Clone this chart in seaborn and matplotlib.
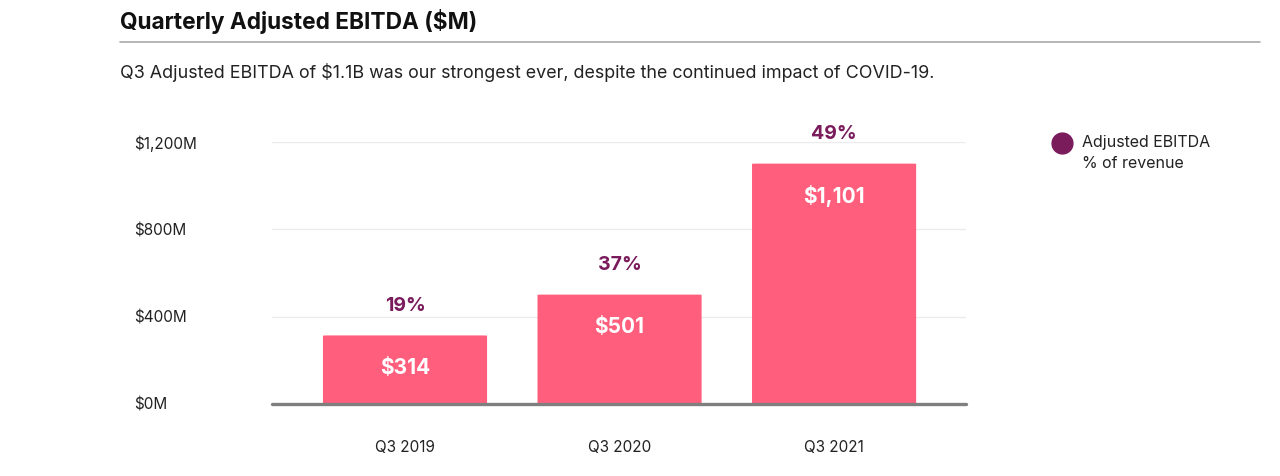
#!/usr/bin/env python3

import pandas as pd
import matplotlib.pyplot as plt
import seaborn as sns
from matplotlib.patches import FancyBboxPatch

# Chart data
quarters = ['Q3 2019', 'Q3 2020', 'Q3 2021']
ebitda = [314, 501, 1101]
margin_pct = [19, 37, 49]
y_ticks = [0, 400, 800, 1200]

BAR_COLOR = '#FF5F7D'
PURPLE = '#7A1B5C'
TEXT = '#222222'

sns.set_theme(style='white')
plt.rcParams['font.family'] = ['Inter', 'DejaVu Sans']

df = pd.DataFrame({'quarter': quarters, 'ebitda': ebitda})

fig = plt.figure(figsize=(12.8, 4.76), dpi=100)
ax = fig.add_axes([0.2125, 0.1513, 0.5422, 0.5504])

sns.barplot(data=df, x='quarter', y='ebitda', color=BAR_COLOR, width=0.765,
            saturation=1, ax=ax, zorder=3)

# round bar corners slightly
for p in list(ax.patches):
    x, y, w, h = p.get_x(), p.get_y(), p.get_width(), p.get_height()
    rounded = FancyBboxPatch((x, y), w, h, boxstyle='round,pad=0,rounding_size=0.025',
                             mutation_aspect=45, facecolor=BAR_COLOR,
                             edgecolor='none', zorder=3)
    p.remove()
    ax.add_patch(rounded)

ax.set_xlim(-0.62, 2.615)
ax.set_ylim(0, 1200)
ax.set_yticks(y_ticks)
ax.set_yticklabels([f'${v:,}M' for v in y_ticks])
ax.set_xlabel('')
ax.set_ylabel('')

for v in y_ticks[1:]:
    ax.axhline(v, color='#EBEBEB', lw=1, zorder=1)
ax.axhline(0, color='#7F7F7F', lw=2.4, zorder=4, clip_on=False)

for s in ax.spines.values():
    s.set_visible(False)

ax.tick_params(axis='y', length=0, pad=99, labelsize=11, labelcolor=TEXT)
for lbl in ax.get_yticklabels():
    lbl.set_horizontalalignment('left')
ax.tick_params(axis='x', length=0, pad=26, labelsize=11, labelcolor=TEXT)

# labels
for i, (v, pct) in enumerate(zip(ebitda, margin_pct)):
    ax.annotate(f'${v:,}', (i, v), xytext=(0, -23.5), textcoords='offset points',
                ha='center', va='center', color='white', fontsize=15,
                fontweight='bold', zorder=5)
    ax.annotate(f'{pct}%', (i, v), xytext=(0, 21.5), textcoords='offset points',
                ha='center', va='center', color=PURPLE, fontsize=14,
                fontweight='bold', annotation_clip=False)

# header
fig.text(120 / 1280, 1 - 22 / 476, 'Quarterly Adjusted EBITDA ($M)', fontsize=16.3,
         fontweight='bold', color='#111111', va='center', ha='left')
fig.add_artist(plt.Line2D([120 / 1280, 1260 / 1280], [1 - 42 / 476, 1 - 42 / 476],
                          color='#AAAAAA', lw=1.2))
fig.text(120 / 1280, 1 - 72 / 476,
         'Q3 Adjusted EBITDA of $1.1B was our strongest ever, despite the continued impact of COVID-19.',
         fontsize=12.9, color=TEXT, va='center', ha='left')

# legend
fig.add_artist(plt.Line2D([1062 / 1280], [1 - 143 / 476], marker='o', markersize=15,
                          color=PURPLE, lw=0))
fig.text(1082 / 1280, 1 - 143 / 476, 'Adjusted EBITDA', fontsize=11.5, color=TEXT,
         va='center', ha='left')
fig.text(1082 / 1280, 1 - 164 / 476, '% of revenue', fontsize=11.5, color=TEXT,
         va='center', ha='left')

fig.savefig('out.png', dpi=100)
plt.close(fig)
